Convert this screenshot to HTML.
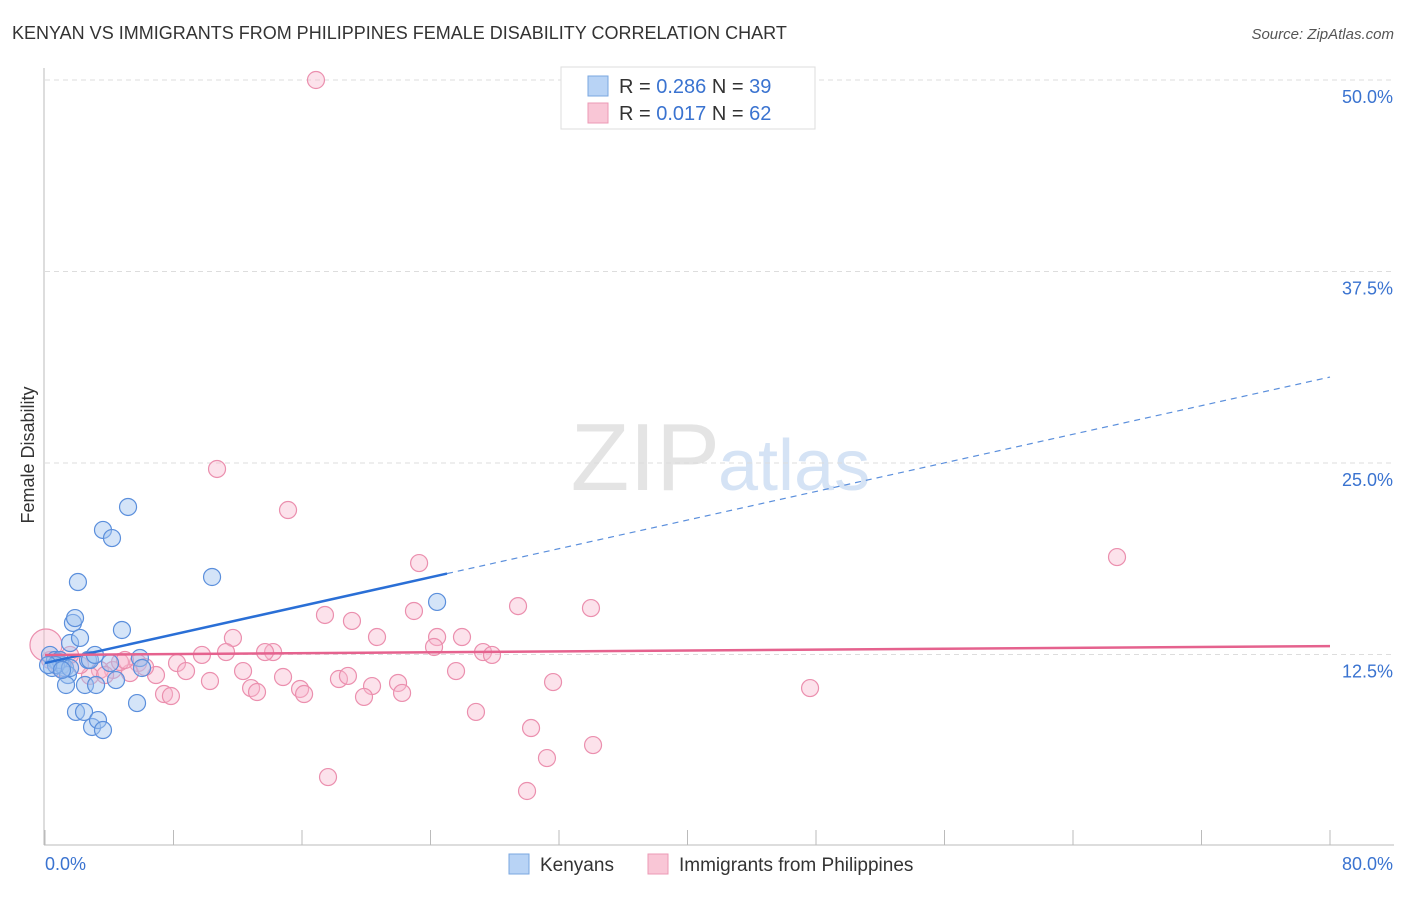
<!DOCTYPE html>
<html><head><meta charset="utf-8"><style>
body{margin:0;background:#fff;font-family:"Liberation Sans",sans-serif;}
svg text{font-family:"Liberation Sans",sans-serif;}
</style></head><body>
<svg width="1406" height="892" viewBox="0 0 1406 892" xmlns="http://www.w3.org/2000/svg">
<text x="12" y="39" font-size="18" fill="#333">KENYAN VS IMMIGRANTS FROM PHILIPPINES FEMALE DISABILITY CORRELATION CHART</text>
<text x="1394" y="39" font-size="15" fill="#555" font-style="italic" text-anchor="end">Source: ZipAtlas.com</text>
<text x="720" y="490" font-size="96" fill="#e4e4e4" text-anchor="end" font-family="Liberation Serif">ZIP</text>
<text x="718" y="490" font-size="72" fill="#d5e3f5">atlas</text>
<g id="grid"></g>
<line x1="44" y1="68" x2="44" y2="845" stroke="#bbb"/>
<line x1="44" y1="845" x2="1394" y2="845" stroke="#bbb"/>
<g id="xticks"></g>
<text transform="translate(34,455) rotate(-90)" font-size="18" fill="#333" text-anchor="middle">Female Disability</text>
<text x="45" y="870" font-size="18" fill="#3a73d0">0.0%</text>
<text x="1393" y="870" font-size="18" fill="#3a73d0" text-anchor="end">80.0%</text>
<g id="points"></g>
<g id="trends"></g>
<g>
<rect x="561" y="67" width="254" height="62" fill="#fff" stroke="#ddd"/>
<rect x="588" y="76" width="20" height="20" fill="#b8d3f5" stroke="#7aa7e0"/>
<text x="619" y="93" font-size="20" fill="#333">R = <tspan fill="#3a73d0">0.286</tspan>   N = <tspan fill="#3a73d0">39</tspan></text>
<rect x="588" y="103" width="20" height="20" fill="#f9c6d6" stroke="#ec9ab5"/>
<text x="619" y="120" font-size="20" fill="#333">R =  <tspan fill="#3a73d0">0.017</tspan>   N = <tspan fill="#3a73d0">62</tspan></text>
</g>
<g>
<rect x="509" y="854" width="20" height="20" fill="#b8d3f5" stroke="#7aa7e0"/>
<text x="540" y="871" font-size="19" fill="#333">Kenyans</text>
<rect x="648" y="854" width="20" height="20" fill="#f9c6d6" stroke="#ec9ab5"/>
<text x="679" y="871" font-size="19" fill="#333">Immigrants from Philippines</text>
</g>
</svg>
<script>
const yTicks=[12.5,25,37.5,50];
const yTickLabels=["12.5%","25.0%","37.5%","50.0%"];
const xTicks=[0,8,16,24,32,40,48,56,64,72,80];
const kenX=[0.31,0.44,0.62,0.81,1.06,1.25,1.43,1.56,1.31,1.74,1.87,2.05,2.18,1.93,2.43,2.49,2.68,2.93,3.18,3.30,3.61,3.61,4.05,4.17,4.42,4.79,5.17,5.73,5.91,6.04,10.40,24.41,0.93,0.68,2.80,1.56,0.19,1.06,3.11];
const kenY=[12.47,11.62,12.14,12.01,11.81,11.62,11.16,13.25,10.51,14.56,14.88,17.23,13.58,8.75,8.75,10.51,12.14,7.77,10.51,8.22,20.63,7.57,11.94,20.10,10.83,14.10,22.13,9.33,12.27,11.62,17.56,15.93,12.14,11.81,12.14,11.62,11.81,11.49,12.47];
const phiX=[16.87,10.71,15.13,23.29,66.74,29.45,33.99,17.43,22.97,19.11,24.41,11.70,20.67,25.96,14.20,13.70,11.27,24.22,27.27,27.83,9.77,8.22,8.78,5.79,6.91,4.23,5.29,12.33,14.82,18.30,18.86,25.59,10.27,20.36,21.98,31.63,47.63,12.83,13.20,15.88,16.13,19.86,22.23,7.41,7.84,26.83,30.26,34.12,31.25,17.62,30.01,4.67,3.42,2.80,2.18,0.93,0.31,0.06,1.56,6.23,4.98,3.74];
const phiY=[50.0,24.61,21.93,18.47,18.86,15.66,15.53,15.08,15.34,14.69,13.64,13.58,13.64,13.64,12.66,12.66,12.66,12.99,12.66,12.47,12.47,11.94,11.42,11.94,11.16,11.49,11.29,11.42,11.03,10.90,11.10,11.42,10.77,10.44,10.64,10.70,10.31,10.31,10.05,10.25,9.92,9.73,9.99,9.92,9.79,8.75,7.70,6.59,5.74,4.50,3.59,12.01,11.49,11.10,11.81,11.62,12.14,13.12,12.47,11.68,12.14,11.16];
const kenTrend=[11.94,30.61]; const kenSolidEnd=25.03;
const phiTrend=[12.47,13.05];
const NS="http://www.w3.org/2000/svg";
const sx=v=>45+v*1285/80, sy=v=>846-v*191.5/12.5;
function mk(tag,attrs,parent){const e=document.createElementNS(NS,tag);for(const k in attrs)e.setAttribute(k,attrs[k]);document.getElementById(parent).appendChild(e);return e;}
yTicks.forEach((t,i)=>{
 const l=mk('line',{x1:45,x2:1394,y1:sy(t),y2:sy(t),stroke:'#ddd','stroke-dasharray':'5,4'},'grid');
 
 
 const tx=mk('text',{x:1393,y:sy(t)+23,'font-size':18,fill:'#3a73d0','text-anchor':'end'},'grid');
 tx.textContent=yTickLabels[i];
 
 
});
xTicks.forEach(t=>{
 const l=mk('line',{x1:sx(t),x2:sx(t),y1:830,y2:845,stroke:'#bbb'},'xticks');
 
 
});
phiX.forEach((x,i)=>{
 const c=mk('circle',{cx:sx(x),cy:sy(phiY[i]),r:i==57?16:8.5,fill:'rgba(248,182,204,0.4)',stroke:'#eb8fae','stroke-width':1.2},'points');
 
 
});
kenX.forEach((x,i)=>{
 const c=mk('circle',{cx:sx(x),cy:sy(kenY[i]),r:8.5,fill:'rgba(160,196,240,0.45)',stroke:'#5b8fdc','stroke-width':1.2},'points');
 
 
});
const kf=x=>kenTrend[0]+(kenTrend[1]-kenTrend[0])*x/80;
let a=mk('line',{x1:sx(0),y1:sy(kf(0)),x2:sx(kenSolidEnd),y2:sy(kf(kenSolidEnd)),stroke:'#2a6fd6','stroke-width':2.5},'trends');


a=mk('line',{x1:sx(kenSolidEnd),y1:sy(kf(kenSolidEnd)),x2:sx(80),y2:sy(kf(80)),stroke:'#5b8fdc','stroke-width':1.2,'stroke-dasharray':'6,5'},'trends');


a=mk('line',{x1:sx(0),y1:sy(phiTrend[0]),x2:sx(80),y2:sy(phiTrend[1]),stroke:'#e5628e','stroke-width':2.5},'trends');


</script>
</body></html>
